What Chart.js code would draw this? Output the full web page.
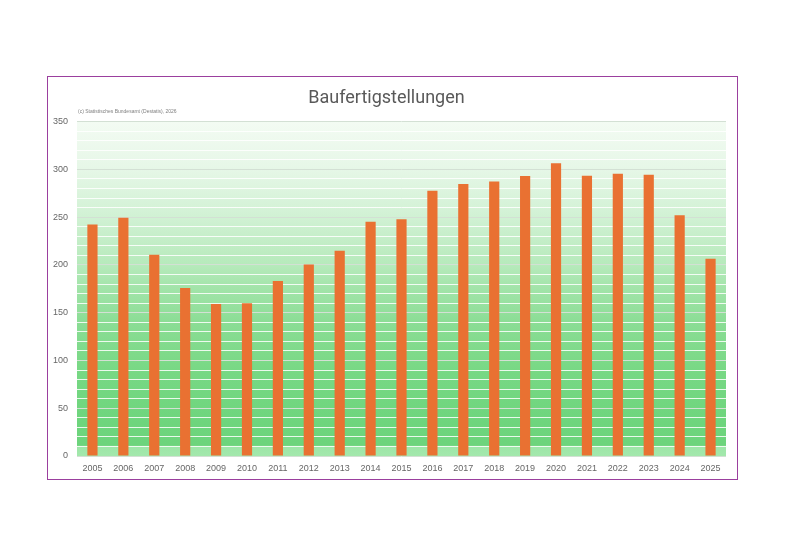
<!DOCTYPE html>
<html>
<head>
<meta charset="utf-8">
<script src="https://cdn.jsdelivr.net/npm/chart.js@4/dist/chart.umd.min.js"></script>
<style>
html,body{margin:0;padding:0;background:#fff;}
#wrap{position:absolute;left:0;top:0;width:785px;height:556px;}
#frame{position:absolute;left:47px;top:75.5px;width:689px;height:402px;border:1.5px solid #9b3f9e;pointer-events:none;}
</style>
</head>
<body>
<div id="wrap"><canvas id="c" width="785" height="556"></canvas></div>
<div id="frame"></div>
<script>
const years = ["2005","2006","2007","2008","2009","2010","2011","2012","2013","2014","2015","2016","2017","2018","2019","2020","2021","2022","2023","2024","2025"];
const completions = [242.3,249.4,210.7,175.9,159.0,159.8,183.1,200.5,214.8,245.3,247.7,277.7,284.8,287.4,293.0,306.4,293.4,295.3,294.4,251.9,206.5];
const chartTitle = "Baufertigstellungen";
const sourceNote = "(c) Statistisches Bundesamt (Destatis), 2026";

const bgPlugin = {
  id: 'bg',
  beforeDraw(chart) {
    const {ctx, chartArea: a} = chart;
    const g = ctx.createLinearGradient(0, a.top, 0, a.bottom);
    g.addColorStop(0, '#f3fbf3');
    g.addColorStop(0.14, '#e6f7e7');
    g.addColorStop(0.29, '#d0f1d3');
    g.addColorStop(0.43, '#b6eabb');
    g.addColorStop(0.5, '#a2e4a9');
    g.addColorStop(0.6, '#8bdd95');
    g.addColorStop(0.75, '#77d884');
    g.addColorStop(0.9, '#6ed57d');
    g.addColorStop(0.968, '#6dd47c');
    g.addColorStop(0.972, '#9ee6a8');
    g.addColorStop(1, '#a3e8ac');
    ctx.save();
    ctx.fillStyle = g;
    ctx.fillRect(a.left, a.top, a.right - a.left, a.bottom - a.top);
    ctx.restore();
  },
  afterDraw(chart) {
    const {ctx, chartArea: a} = chart;
    ctx.save();
    ctx.font = '5px "Liberation Sans Narrow", "Liberation Sans", sans-serif';
    ctx.fillStyle = '#808080';
    ctx.textBaseline = 'middle';
    ctx.fillText(sourceNote, a.left + 1, 112);
    ctx.restore();
  }
};

new Chart(document.getElementById('c'), {
  type: 'bar',
  data: {
    labels: years,
    datasets: [{
      data: completions,
      backgroundColor: '#e97132',
      borderWidth: 0,
      categoryPercentage: 1,
      barPercentage: 0.33
    }]
  },
  options: {
    responsive: false,
    animation: false,
    devicePixelRatio: 1,
    layout: { padding: { left: 47, right: 59, top: 0, bottom: 80 } },
    plugins: {
      legend: { display: false },
      tooltip: { enabled: false },
      title: {
        display: true,
        text: chartTitle,
        color: '#595959',
        font: { family: 'Roboto, "Liberation Sans", sans-serif', size: 18, weight: 'normal', lineHeight: 1.2 },
        padding: { top: 88, bottom: 12 }
      }
    },
    scales: {
      x: {
        grid: { display: false, drawTicks: false },
        border: { display: false },
        ticks: { color: '#666666', font: { family: '"Liberation Sans", Arial, sans-serif', size: 9 }, padding: 7, maxRotation: 0, autoSkip: false },
        afterFit(s) { s.height = 20; }
      },
      y: {
        min: 0, max: 350,
        grid: {
          drawTicks: false,
          color: ctx => (ctx.tick && ctx.tick.value % 50 === 0) ? '#d3e0d4' : 'rgba(255,255,255,0.85)',
          lineWidth: 1
        },
        border: { display: false },
        ticks: {
          stepSize: 10,
          autoSkip: false,
          color: '#666666',
          font: { family: '"Liberation Sans", Arial, sans-serif', size: 9 },
          padding: 9,
          callback: v => (v % 50 === 0 ? String(v) : '')
        },
        afterFit(s) { s.width = 30; }
      }
    }
  },
  plugins: [bgPlugin]
});
</script>
</body>
</html>
